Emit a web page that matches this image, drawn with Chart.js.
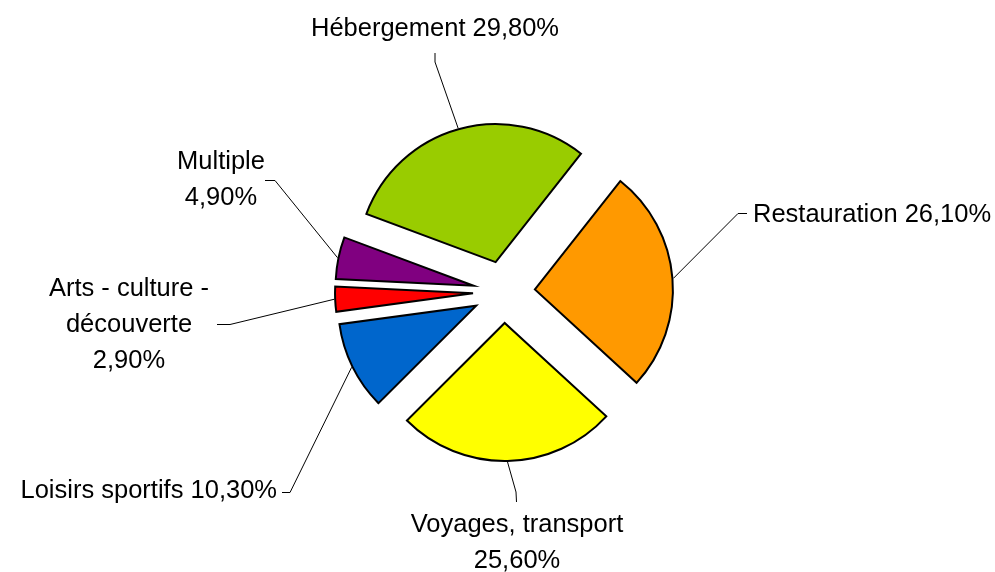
<!DOCTYPE html>
<html>
<head>
<meta charset="utf-8">
<script src="https://cdn.jsdelivr.net/npm/chart.js@4/dist/chart.umd.min.js"></script>
<style>
  html, body { margin: 0; padding: 0; background: #fff; }
  #wrap { width: 995px; height: 572px; }
</style>
</head>
<body>
<div id="wrap"><canvas id="pieChart"></canvas></div>
<script>
// data
const categories = [
  "Hébergement",
  "Restauration",
  "Voyages, transport",
  "Loisirs sportifs",
  "Arts - culture - découverte",
  "Multiple",
];
const shares = [29.8, 26.1, 25.6, 10.3, 2.9, 4.9];

const sliceColors = ["#99cc00", "#ff9900", "#ffff00", "#0066cc", "#ff0000", "#800080"];

// where each label sits (leader line goes from the arc to the elbow then to the end)
const labelLayout = [
  { elbow: [435, 62], end: [435, 53], x: 435, y: 36, align: "center", maxWidth: 400, pctOwnLine: false },
  { elbow: [738, 213.5], end: [747, 213.5], x: 753, y: 222, align: "left", maxWidth: 400, pctOwnLine: false },
  { elbow: [516, 492], end: [516.5, 502], x: 517, y: 532, align: "center", maxWidth: 400, pctOwnLine: true },
  { elbow: [290, 492.5], end: [282, 492.5], x: 277, y: 497.5, align: "right", maxWidth: 400, pctOwnLine: false },
  { elbow: [230, 324.5], end: [217, 324.5], x: 129, y: 296, align: "center", maxWidth: 185, pctOwnLine: true },
  { elbow: [275, 180.5], end: [265, 180.5], x: 221, y: 169, align: "center", maxWidth: 400, pctOwnLine: true },
];

const EXPLODE = 31;
const LABEL_FONT = '25.5px "Liberation Sans", Arial, sans-serif';
const LINE_HEIGHT = 36;

function pctText(v) {
  return v.toFixed(2).replace(".", ",") + "%";
}

function wrapWords(ctx, text, maxWidth) {
  const words = text.split(" ");
  const lines = [];
  let cur = "";
  words.forEach((w) => {
    const test = cur ? cur + " " + w : w;
    if (cur && ctx.measureText(test).width > maxWidth) {
      lines.push(cur);
      cur = w;
    } else {
      cur = test;
    }
  });
  if (cur) lines.push(cur);
  return lines;
}

// pull every slice out from the centre by the same distance
const explodePlugin = {
  id: "explode",
  beforeDatasetDraw(chart) {
    const area = chart.chartArea;
    const cx = (area.left + area.right) / 2;
    const cy = (area.top + area.bottom) / 2;
    chart.getDatasetMeta(0).data.forEach((arc) => {
      const mid = (arc.startAngle + arc.endAngle) / 2;
      arc.x = cx + Math.cos(mid) * EXPLODE;
      arc.y = cy + Math.sin(mid) * EXPLODE;
    });
  },
};

const labelPlugin = {
  id: "pieLabels",
  afterDatasetDraw(chart) {
    const ctx = chart.ctx;
    const arcs = chart.getDatasetMeta(0).data;
    ctx.save();
    ctx.font = LABEL_FONT;
    arcs.forEach((arc, i) => {
      const lay = labelLayout[i];
      const mid = (arc.startAngle + arc.endAngle) / 2;
      const r = arc.outerRadius + 1;
      const ax = arc.x + Math.cos(mid) * r;
      const ay = arc.y + Math.sin(mid) * r;

      ctx.strokeStyle = "#000";
      ctx.lineWidth = 1;
      ctx.beginPath();
      ctx.moveTo(ax, ay);
      ctx.lineTo(lay.elbow[0], lay.elbow[1]);
      ctx.lineTo(lay.end[0], lay.end[1]);
      ctx.stroke();

      const lines = wrapWords(ctx, categories[i], lay.maxWidth);
      if (lay.pctOwnLine) lines.push(pctText(shares[i]));
      else lines[lines.length - 1] += " " + pctText(shares[i]);

      ctx.fillStyle = "#000";
      ctx.textAlign = lay.align;
      ctx.textBaseline = "alphabetic";
      lines.forEach((t, k) => ctx.fillText(t, lay.x, lay.y + k * LINE_HEIGHT));
    });
    ctx.restore();
  },
};

new Chart(document.getElementById("pieChart"), {
  type: "pie",
  data: {
    labels: categories,
    datasets: [
      {
        data: shares,
        backgroundColor: sliceColors,
        borderColor: "#000",
        borderWidth: 2,
        borderJoinStyle: "miter",
      },
    ],
  },
  options: {
    responsive: true,
    maintainAspectRatio: false,
    animation: false,
    events: [],
    rotation: -69.5,
    radius: 138,
    layout: { padding: { left: 13, top: 12 } },
    plugins: {
      legend: { display: false },
      tooltip: { enabled: false },
    },
  },
  plugins: [explodePlugin, labelPlugin],
});
</script>
</body>
</html>
